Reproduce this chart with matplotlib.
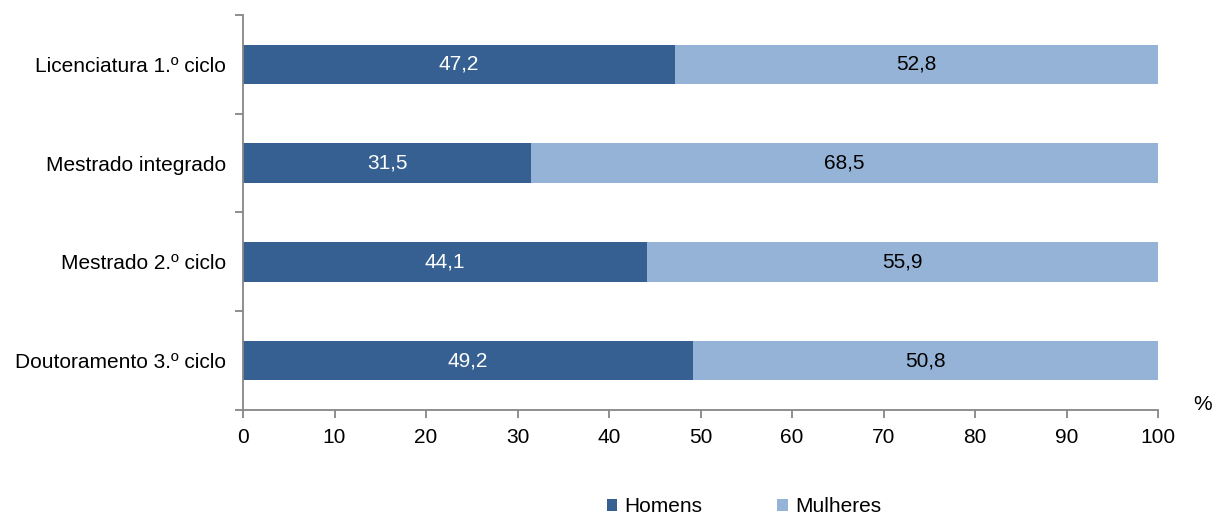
import matplotlib.pyplot as plt
import numpy as np

plt.rcParams['font.family'] = ['Liberation Sans', 'DejaVu Sans']

categories = ['Licenciatura 1.º ciclo', 'Mestrado integrado', 'Mestrado 2.º ciclo', 'Doutoramento 3.º ciclo']
homens = [47.2, 31.5, 44.1, 49.2]
mulheres = [52.8, 68.5, 55.9, 50.8]

dark = '#366092'
light = '#95b3d7'
grey = '#868686'
fs = 15

fig = plt.figure(figsize=(12.16, 5.18), dpi=100)
ax = fig.add_axes([243/1216, 1-410/518, (1158-243)/1216, 395/518])

y = np.arange(len(categories))[::-1]
b1 = ax.barh(y, homens, height=0.4, color=dark, label='Homens')
b2 = ax.barh(y, mulheres, left=homens, height=0.4, color=light, label='Mulheres')

for yi, h, m in zip(y, homens, mulheres):
    ax.text(h/2, yi, f'{h:.1f}'.replace('.', ','), ha='center', va='center', color='white', fontsize=fs)
    ax.text(h + m/2, yi, f'{m:.1f}'.replace('.', ','), ha='center', va='center', color='black', fontsize=fs)

ax.set_xlim(0, 100)
ax.set_ylim(-0.5, 3.5)
ax.set_xticks(range(0, 101, 10))
ax.set_yticks(y)
ax.set_yticklabels(categories)
ax.set_yticks(np.arange(-0.5, 4, 1), minor=True)
ax.tick_params(axis='y', which='major', length=0, pad=12, labelsize=fs)
ax.tick_params(axis='y', which='minor', length=6, color=grey, width=1.3, direction='out')
ax.tick_params(axis='x', length=6, color=grey, width=1.3, labelsize=fs, pad=7)

for s in ['top', 'right']:
    ax.spines[s].set_visible(False)
for s in ['left', 'bottom']:
    ax.spines[s].set_color(grey)
    ax.spines[s].set_linewidth(1.3)

fig.text(1203/1216, 1-405/518, '%', ha='center', va='center', fontsize=fs)

fig.legend(handles=[b1, b2], loc='center', bbox_to_anchor=(744/1216, 1-507/518), ncol=2,
           frameon=False, fontsize=fs, handlelength=0.5, handleheight=0.5,
           columnspacing=3.6, handletextpad=0.35, borderpad=0)

fig.savefig('out.png', dpi=100)
